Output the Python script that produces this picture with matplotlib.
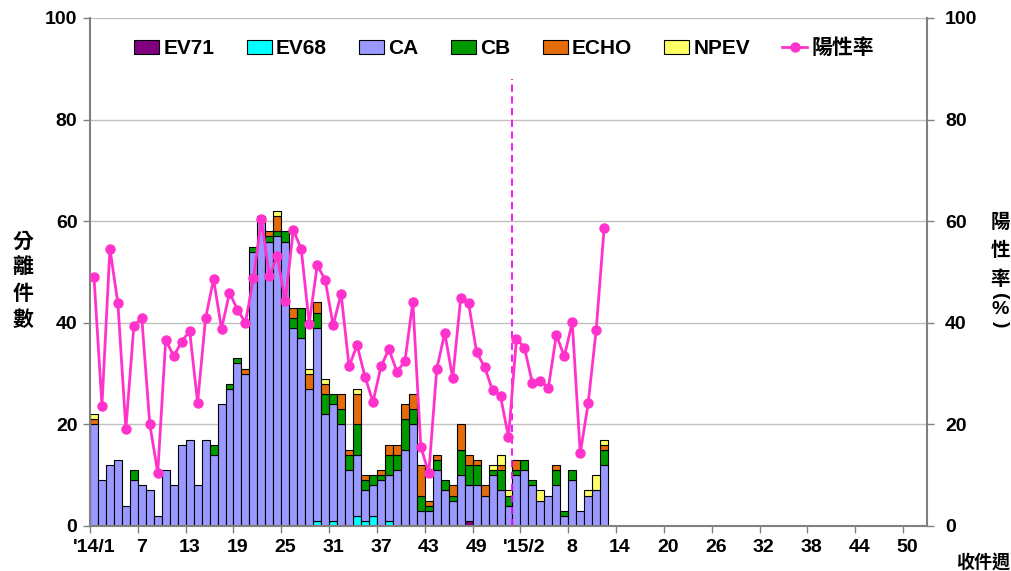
import numpy as np
import matplotlib
matplotlib.use('Agg')
import matplotlib.pyplot as plt

plt.rcParams['font.family'] = ['Liberation Sans', 'Noto Sans CJK TC', 'DejaVu Sans']
plt.rcParams['font.weight'] = 'bold'

# 2014 week 1-53, then 2015 week 1-12 (one value per week)
ev71 = [0]*47 + [1] + [0]*17
ev68 = [0]*28 + [1, 0, 1, 0, 0, 2, 1, 2, 0, 1] + [0]*27
ca = [20, 9, 12, 13, 4, 9, 8, 7, 2, 11, 8, 16, 17, 8, 17, 14, 24, 27, 32, 30,
      54, 61, 56, 57, 56, 39, 37, 27, 38, 22, 23, 20, 11, 12, 6, 6, 9, 9, 11, 15,
      20, 3, 3, 11, 7, 5, 10, 7, 8, 6, 10, 7, 4, 10, 11, 8, 5, 6, 8, 2,
      9, 3, 6, 7, 12]
cb = [0, 0, 0, 0, 0, 2, 0, 0, 0, 0, 0, 0, 0, 0, 0, 2, 0, 1, 1, 0,
      1, 0, 1, 1, 2, 2, 6, 0, 3, 4, 2, 3, 3, 6, 2, 2, 1, 4, 3, 6,
      3, 3, 1, 2, 2, 1, 5, 4, 4, 0, 1, 4, 2, 1, 2, 1, 0, 0, 3, 1,
      2, 0, 0, 0, 3]
echo = [1, 0, 0, 0, 0, 0, 0, 0, 0, 0, 0, 0, 0, 0, 0, 0, 0, 0, 0, 1,
        0, 0, 1, 3, 0, 2, 0, 3, 2, 2, 0, 3, 1, 6, 1, 0, 1, 2, 2, 3,
        3, 6, 1, 1, 0, 2, 5, 2, 1, 2, 0, 1, 0, 2, 0, 0, 0, 0, 1, 0,
        0, 0, 0, 0, 1]
npev = [1, 0, 0, 0, 0, 0, 0, 0, 0, 0, 0, 0, 0, 0, 0, 0, 0, 0, 0, 0,
        0, 0, 0, 1, 0, 0, 0, 1, 0, 1, 0, 0, 0, 1, 0, 0, 0, 0, 0, 0,
        0, 0, 0, 0, 0, 0, 0, 0, 0, 0, 1, 2, 1, 0, 0, 0, 2, 0, 0, 0,
        0, 0, 1, 3, 1]
rate = [49.0, 23.7, 54.6, 43.8, 19.1, 39.4, 40.9, 20.0, 10.5, 36.7,
        33.4, 36.3, 38.4, 24.3, 40.9, 48.6, 38.8, 45.9, 42.6, 40.0,
        48.8, 60.4, 49.2, 53.1, 44.2, 58.3, 54.5, 39.8, 51.3, 48.5,
        39.5, 45.7, 31.4, 35.6, 29.4, 24.4, 31.4, 34.8, 30.4, 32.4,
        44.1, 15.6, 10.4, 30.9, 38.0, 29.1, 44.8, 43.8, 34.2, 31.3,
        26.7, 25.5, 17.5, 36.9, 35.1, 28.1, 28.6, 27.2, 37.6, 33.4,
        40.1, 14.3, 24.2, 38.6, 58.7]

n_slots = 105  # 53 weeks of 2014 + 52 weeks of 2015
tick_labels = ["'14/1", '7', '13', '19', '25', '31', '37', '43', '49',
               "'15/2", '8', '14', '20', '26', '32', '38', '44', '50']
year_break = 52.4

layers = [('EV71', ev71, '#800080'), ('EV68', ev68, '#00FFFF'),
          ('CA', ca, '#9999FF'), ('CB', cb, '#009900'),
          ('ECHO', echo, '#E46C0A'), ('NPEV', npev, '#FFFF66')]

fig = plt.figure(figsize=(10.12, 5.71), dpi=100)
ax = fig.add_axes([90/1012, 45/571, 837/1012, 508/571])

x = np.arange(len(ca))
bottom = np.zeros(len(ca))
for name, vals, col in layers:
    vals = np.array(vals, dtype=float)
    m = vals > 0
    ax.bar(x[m], vals[m], width=1.0, bottom=bottom[m], color=col,
           edgecolor='black', linewidth=0.8, label=name)
    bottom += vals

ax.plot([year_break, year_break], [0, 88], color='#FF00FF', lw=1.3,
        linestyle=(0, (4, 2.5)))

ax.set_xlim(-0.5, n_slots - 0.5)
ax.set_ylim(0, 100)
ax.set_yticks(range(0, 101, 20))
ax.set_axisbelow(True)
ax.yaxis.grid(True, color='#C0C0C0', lw=1)

ax.set_xticks(np.arange(-0.5, n_slots - 3, 6))
ax.set_xticklabels([])
ax.set_xticks(np.arange(0, n_slots - 2, 6), minor=True)
ax.set_xticklabels(tick_labels, minor=True)
ax.tick_params(axis='x', which='minor', length=0, pad=9, labelsize=14)
ax.tick_params(axis='x', which='major', length=5, color='#808080', width=1)
ax.tick_params(axis='y', length=5, color='#808080', width=1, pad=4, labelsize=14)

for s in ['top', 'right']:
    ax.spines[s].set_visible(False)
for s in ['left', 'bottom']:
    ax.spines[s].set_color('#808080')
    ax.spines[s].set_linewidth(1.5)

ax2 = ax.twinx()
ax2.plot(x, rate, color='#FF33CC', lw=2, marker='o', ms=6.5, label='陽性率')
ax2.set_ylim(0, 100)
ax2.set_yticks(range(0, 101, 20))
ax2.tick_params(axis='y', length=5, color='#808080', width=1, pad=8, labelsize=14)
for s in ['top', 'left', 'bottom']:
    ax2.spines[s].set_visible(False)
ax2.spines['right'].set_color('#808080')
ax2.spines['right'].set_linewidth(1.5)

h1, l1 = ax.get_legend_handles_labels()
h2, l2 = ax2.get_legend_handles_labels()
ax2.legend(h1[:6] + h2, l1[:6] + l2, loc='center', bbox_to_anchor=(0.495, 0.941),
           ncol=7, frameon=False, prop={'size': 15, 'weight': 'bold'},
           handlelength=1.2, handleheight=0.65, handletextpad=0.2,
           columnspacing=1.55)

fig.text(23/1012, 1 - 280/571, '分\n離\n件\n數', ha='center', va='center',
         fontsize=15, linespacing=1.3, family='Noto Sans CJK TC', weight='bold')

# right axis title, stacked vertically
right_chars = ['陽', '性', '率']
right_y = [222, 251, 279]
for ch, yy in zip(right_chars, right_y):
    fig.text(1000/1012, 1 - yy/571, ch, ha='center', va='center', fontsize=14,
             family='Noto Sans CJK TC', weight='bold')
fig.text(1000/1012, 1 - 296/571, '(', ha='center', va='center', fontsize=14,
         rotation=-90, weight='bold')
fig.text(1000/1012, 1 - 310/571, '%', ha='center', va='center', fontsize=14,
         weight='bold')
fig.text(1000/1012, 1 - 324/571, ')', ha='center', va='center', fontsize=14,
         rotation=-90, weight='bold')

fig.text(983/1012, 1 - 562/571, '收件週', ha='center', va='center', fontsize=13,
         family='Noto Sans CJK TC', weight='bold')

fig.savefig('out.png', dpi=100)
